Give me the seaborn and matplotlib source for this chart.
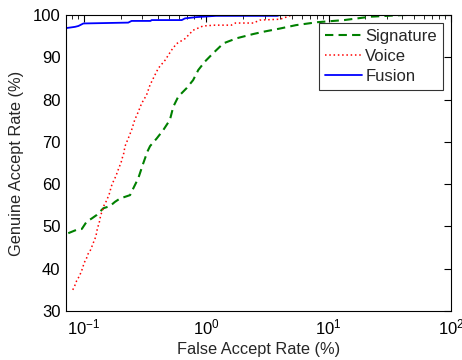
import matplotlib
matplotlib.use("Agg")
import matplotlib.pyplot as plt
import seaborn as sns
import numpy as np
import pandas as pd
from matplotlib.ticker import LogLocator

sig_far = [0.0744, 0.087, 0.096, 0.105, 0.116, 0.127, 0.144, 0.163, 0.179, 0.197, 0.238, 0.253,
           0.278, 0.305, 0.33, 0.347, 0.393, 0.445, 0.504, 0.537, 0.59, 0.69, 0.78, 0.86, 0.975,
           1.14, 1.38, 1.77, 2.42, 3.0, 4.0, 5.4, 8.1, 13.4, 22, 41, 100]
sig_gar = [48.4, 49.2, 49.4, 51.1, 51.9, 52.7, 54.3, 54.8, 55.8, 56.6, 57.4, 59.0,
           61.4, 64.9, 67.7, 69.0, 70.8, 72.8, 75.2, 78.3, 80.7, 82.7, 84.6, 87.0, 89.0,
           91.0, 93.3, 94.5, 95.5, 96.1, 96.8, 97.6, 98.3, 98.8, 99.6, 100, 100]

voice_far = [0.081, 0.0844, 0.087, 0.091, 0.0945, 0.0976, 0.1, 0.105, 0.108, 0.113, 0.117, 0.121,
             0.125, 0.127, 0.129, 0.133, 0.135, 0.138, 0.142, 0.146, 0.153, 0.158, 0.163, 0.166,
             0.171, 0.179, 0.185, 0.191, 0.197, 0.203, 0.207, 0.212, 0.216, 0.23, 0.245, 0.26,
             0.278, 0.296, 0.325, 0.346, 0.38, 0.405, 0.46, 0.52, 0.57, 0.67, 0.78, 0.94, 1.18,
             1.6, 1.73, 2.42, 2.75, 4.0, 4.4, 5.0, 100]
voice_gar = [35.0, 36.1, 37.1, 38.1, 39.1, 40.2, 41.3, 42.5, 43.5, 44.4, 45.5, 46.6,
             47.6, 48.6, 49.7, 50.7, 51.8, 52.9, 53.9, 55.0, 56.1, 57.1, 58.1, 59.2,
             60.2, 61.4, 62.4, 63.5, 64.5, 65.5, 66.5, 67.4, 68.9, 70.8, 72.8, 75.2,
             77.1, 79.1, 81.1, 83.4, 85.8, 87.4, 89.3, 91.7, 93.2, 94.4, 96.4, 97.4, 97.6,
             97.6, 98.1, 98.1, 98.8, 99.0, 99.4, 100, 100]

fus_far = [0.0713, 0.08, 0.0845, 0.09, 0.099, 0.23, 0.245, 0.35, 0.357, 0.63, 0.67, 0.83, 0.94,
           1.2, 3.8, 4.0, 100]
fus_gar = [96.9, 97.1, 97.2, 97.4, 98.0, 98.2, 98.6, 98.6, 98.8, 98.8, 99.2, 99.5, 99.6,
           99.8, 99.8, 100, 100]

xticks = [0.1, 1, 10, 100]
xticklabels = [r"$10^{-1}$", r"$10^{0}$", r"$10^{1}$", r"$10^{2}$"]
yticks = [30, 40, 50, 60, 70, 80, 90, 100]

sns.set_style("white")
plt.rcParams["font.family"] = ["Liberation Sans", "DejaVu Sans"]
plt.rcParams["mathtext.fontset"] = "custom"
plt.rcParams["mathtext.rm"] = "Liberation Sans"
plt.rcParams["mathtext.it"] = "Liberation Sans"

fig = plt.figure(figsize=(4.62, 3.6), dpi=100)
ax = fig.add_axes([66/462, 1 - 311/360, (451-66)/462, (311-15)/360])

df_s = pd.DataFrame({"far": sig_far, "gar": sig_gar})
df_v = pd.DataFrame({"far": voice_far, "gar": voice_gar})
df_f = pd.DataFrame({"far": fus_far, "gar": fus_gar})

sns.lineplot(data=df_s, x="far", y="gar", ax=ax, color="#008000", lw=1.5,
             linestyle=(0, (4, 2.5)), sort=False, estimator=None, label="Signature")
sns.lineplot(data=df_v, x="far", y="gar", ax=ax, color="#ff0000", lw=1.1,
             linestyle=(0, (1, 1.8)), sort=False, estimator=None, label="Voice")
sns.lineplot(data=df_f, x="far", y="gar", ax=ax, color="#0000ff", lw=1.3,
             sort=False, estimator=None, label="Fusion")

ax.set_xscale("log")
ax.set_xlim(0.0713, 100)
ax.set_ylim(30, 100)
ax.set_xticks(xticks)
ax.set_xticklabels(xticklabels)
ax.xaxis.set_minor_locator(LogLocator(base=10, subs=np.arange(2, 10)))
ax.xaxis.set_minor_formatter(plt.NullFormatter())
ax.set_yticks(yticks)
ax.tick_params(which="both", direction="in", top=True, right=True, labelsize=12, colors="black")
ax.tick_params(which="major", length=5, width=0.8)
ax.tick_params(which="minor", length=3, width=0.6)
ax.tick_params(axis="y", pad=4)
ax.tick_params(axis="x", pad=5)
for s in ax.spines.values():
    s.set_color("black")
    s.set_linewidth(0.8)

ax.set_xlabel("False Accept Rate (%)", fontsize=11.8, labelpad=3)
ax.set_ylabel("Genuine Accept Rate (%)", fontsize=11.8, labelpad=6)

leg = ax.legend(loc="upper right", fontsize=12, frameon=True, fancybox=False,
                edgecolor="black", handlelength=2.2, handletextpad=0.2,
                borderpad=0.35, labelspacing=0.3, borderaxespad=0.5)
leg.get_frame().set_linewidth(0.8)

fig.savefig("out.png", dpi=100)
